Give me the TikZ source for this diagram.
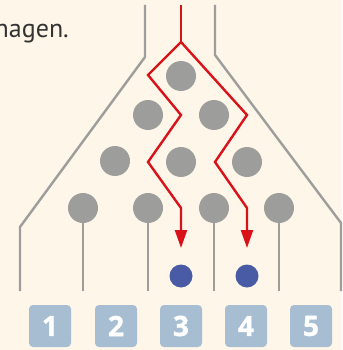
\documentclass[tikz,border=0pt]{standalone}
\usepackage{fontspec}
\setmainfont{PT Sans}
\newfontfamily\digitfont{Open Sans}[BoldFeatures={FakeBold=1.2}]
\usetikzlibrary{arrows.meta}
\definecolor{bgc}{HTML}{FEF6E9}
\definecolor{pegc}{HTML}{9D9D9C}
\definecolor{redc}{HTML}{D9121A}
\definecolor{bluec}{HTML}{4A5BA6}
\definecolor{boxc}{HTML}{A7BDD1}
\definecolor{txtc}{HTML}{333333}
\begin{document}
\begin{tikzpicture}[x=1pt,y=-1pt,
  peg/.style={circle,fill=pegc,minimum size=30pt,inner sep=0pt},
  ball/.style={circle,fill=bluec,minimum size=23pt,inner sep=0pt},
  numbox/.style={rounded corners=4pt,fill=boxc,minimum size=42pt,inner sep=0pt,
    text=white,font=\digitfont\fontsize{28}{30}\selectfont\bfseries},
  wall/.style={draw=pegc,line width=2.4pt},
  redpath/.style={draw=redc,line width=2.4pt},
  redarrow/.style={redpath,-{Triangle[width=12pt,length=18pt]}}]
\fill[bgc] (0,0) rectangle (342,350);
\useasboundingbox (0,0) rectangle (342,350);
% text
\node[anchor=base east,inner sep=0pt,text=txtc,font=\fontsize{26}{28}\selectfont] (txt) at (69,38) {nagen.};
% wall coordinates
\coordinate (lw1) at (145,5);
\coordinate (lw2) at (145,57);
\coordinate (lw3) at (20,227);
\coordinate (lw4) at (20,291);
\coordinate (rw1) at (215,5);
\coordinate (rw2) at (215,55);
\coordinate (rw3) at (341,223);
\coordinate (rw4) at (341,291);
\draw[wall] (lw1) -- (lw2) -- (lw3) -- (lw4);
\draw[wall] (rw1) -- (rw2) -- (rw3) -- (rw4);
% stems
\coordinate (s1) at (83,291);
\coordinate (s2) at (148,291);
\coordinate (s3) at (214,291);
\coordinate (s4) at (279,291);
\draw[wall] (83,208) -- (s1);
\draw[wall] (148,208) -- (s2);
\draw[wall] (214,208) -- (s3);
\draw[wall] (279,208) -- (s4);
% pegs
\node[peg] (p11) at (181,76) {};
\node[peg] (p21) at (148,115) {};
\node[peg] (p22) at (214,115) {};
\node[peg] (p31) at (115,161) {};
\node[peg] (p32) at (181,162) {};
\node[peg] (p33) at (247,162) {};
\node[peg] (p41) at (83,208) {};
\node[peg] (p42) at (148,208) {};
\node[peg] (p43) at (214,208) {};
\node[peg] (p44) at (279,208) {};
% balls
\node[ball] (b3) at (181,276) {};
\node[ball] (b4) at (247,276) {};
% number boxes
\node[numbox] (n1) at (50,326) {1};
\node[numbox] (n2) at (116,326) {2};
\node[numbox] (n3) at (181,326) {3};
\node[numbox] (n4) at (246,326) {4};
\node[numbox] (n5) at (311,326) {5};
% red paths
\coordinate (r0) at (181,5);
\coordinate (r1) at (181,42);
\coordinate (a1) at (148,75);
\coordinate (a2) at (181,115);
\coordinate (a3) at (148,162);
\coordinate (a4) at (181,208);
\coordinate (a5) at (181,248);
\coordinate (c1) at (247,115);
\coordinate (c2) at (215,162);
\coordinate (c3) at (247,208);
\coordinate (c4) at (247,248);
\draw[redpath] (r0) -- (r1);
\draw[redarrow] (r1) -- (a1) -- (a2) -- (a3) -- (a4) -- (a5);
\draw[redarrow] (r1) -- (c1) -- (c2) -- (c3) -- (c4);
\end{tikzpicture}
\end{document}
